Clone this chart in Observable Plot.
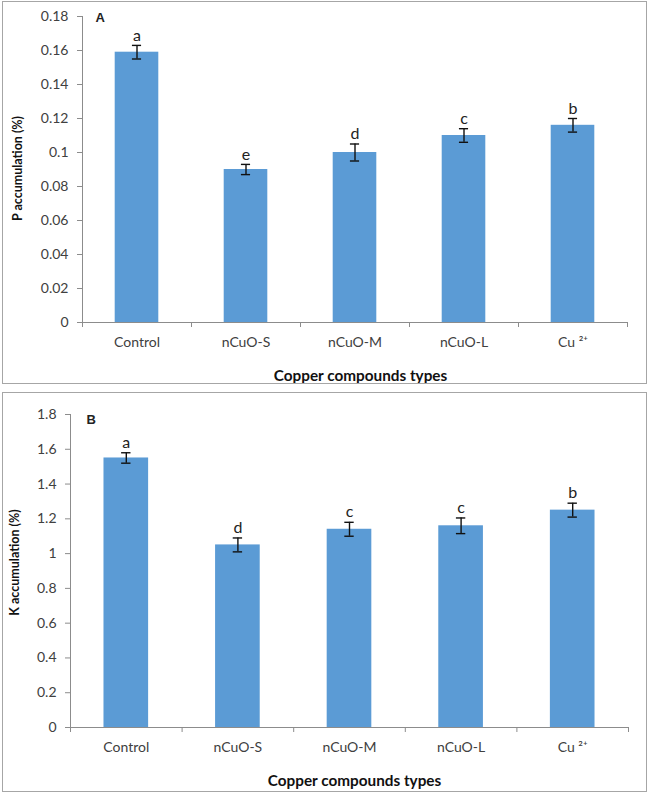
<!DOCTYPE html>
<html>
<head>
<meta charset="utf-8">
<script src="https://cdn.jsdelivr.net/npm/d3@7"></script>
<script src="https://cdn.jsdelivr.net/npm/@observablehq/plot@0.6"></script>
<style>
  html, body { margin: 0; padding: 0; background: #fff; }
  .panel { position: absolute; left: 2px; width: 643px; border: 1px solid #a6a6a6; background: #fff; }
  #pa { top: 1px; height: 381px; }
  #pb { top: 392px; height: 398px; }
  svg { display: block; }
</style>
</head>
<body>
<div class="panel" id="pa"></div>
<div class="panel" id="pb"></div>
<script>
const categories = ["Control", "nCuO-S", "nCuO-M", "nCuO-L", "Cu ²⁺"];

const pValues  = [0.159, 0.090, 0.100, 0.110, 0.116];
const pErrors  = [0.004, 0.003, 0.005, 0.004, 0.004];
const pLetters = ["a", "e", "d", "c", "b"];
const pTicks   = [0, 0.02, 0.04, 0.06, 0.08, 0.1, 0.12, 0.14, 0.16, 0.18];

const kValues  = [1.55, 1.05, 1.14, 1.16, 1.25];
const kErrors  = [0.03, 0.04, 0.04, 0.045, 0.04];
const kLetters = ["a", "d", "c", "c", "b"];
const kTicks   = [0, 0.2, 0.4, 0.6, 0.8, 1, 1.2, 1.4, 1.6, 1.8];

const xTitle = "Copper compounds types";

function panel({values, errors, letters, ticks, yTitle, tag, height, margins, yTitleOff, xTitleOff, tagOff}) {
  const data = categories.map((c, i) => ({i, c, v: values[i], e: errors[i], l: letters[i]}));
  const axisGray = "#8c8c8c";
  const halfBar = 0.2, halfCap = 0.042;
  const bounds = d3.range(categories.length + 1).map(i => i - 0.5);
  return Plot.plot({
    width: 643,
    height,
    marginLeft: margins[0], marginRight: margins[1], marginTop: margins[2], marginBottom: margins[3],
    style: {fontFamily: "Lato, 'Open Sans', sans-serif", fontSize: "14px", color: "#404040", background: "#fff"},
    x: {domain: [-0.5, categories.length - 0.5], axis: null},
    y: {domain: [0, ticks[ticks.length - 1]], axis: null},
    marks: [
      Plot.rect(data, {x1: d => d.i - halfBar, x2: d => d.i + halfBar, y1: d => 0, y2: "v", fill: "#5B9BD5"}),
      Plot.ruleX([-0.5], {stroke: axisGray, strokeWidth: 1}),
      Plot.ruleY([0], {stroke: axisGray, strokeWidth: 1}),
      Plot.axisY({ticks, tickSize: 5, tickPadding: 9, stroke: axisGray, fill: "#404040", fontSize: 14,
                  tickFormat: d => String(+d.toFixed(2)), label: null}),
      Plot.axisX({ticks: bounds, tickSize: 5, stroke: axisGray, tickFormat: () => "", label: null}),
      Plot.axisX({ticks: d3.range(categories.length), tickSize: 0, tickPadding: 15, fill: "#404040",
                  fontSize: 14, tickFormat: i => categories[i], label: null}),
      Plot.ruleX(data, {x: "i", y1: d => d.v - d.e, y2: d => d.v + d.e, stroke: "#111", strokeWidth: 1.4}),
      Plot.ruleY(data, {y: d => d.v + d.e, x1: d => d.i - halfCap, x2: d => d.i + halfCap, stroke: "#111", strokeWidth: 1.4}),
      Plot.ruleY(data, {y: d => d.v - d.e, x1: d => d.i - halfCap, x2: d => d.i + halfCap, stroke: "#111", strokeWidth: 1.4}),
      Plot.text(data, {x: "i", y: d => d.v + d.e, text: "l", dy: -10, fontSize: 16, fill: "#222"}),
      Plot.text([yTitle], {frameAnchor: "left", textAnchor: "middle", lineAnchor: "middle", rotate: -90,
                  dx: yTitleOff[0], dy: yTitleOff[1], fontWeight: "bold", fontSize: 12.5, fill: "#111"}),
      Plot.text([xTitle], {frameAnchor: "bottom", textAnchor: "middle", lineAnchor: "middle",
                  dx: xTitleOff[0], dy: xTitleOff[1], fontWeight: "bold", fontSize: 15.3, fill: "#111"}),
      Plot.text([tag], {frameAnchor: "top-left", textAnchor: "start", lineAnchor: "middle", dx: tagOff[0], dy: tagOff[1],
                  fontWeight: "bold", fontSize: 13, fill: "#222", fontFamily: "'Liberation Sans', Arial, sans-serif"})
    ]
  });
}

document.getElementById("pa").append(panel({
  values: pValues, errors: pErrors, letters: pLetters, ticks: pTicks,
  yTitle: "P accumulation (%)", tag: "A", height: 381,
  margins: [79, 19, 14, 61],
  yTitleOff: [-65, -1], xTitleOff: [5.5, 54], tagOff: [13, 1]
}));

document.getElementById("pb").append(panel({
  values: kValues, errors: kErrors, letters: kLetters, ticks: kTicks,
  yTitle: "K accumulation (%)", tag: "B", height: 398,
  margins: [67, 18, 21, 64],
  yTitleOff: [-56, -8.5], xTitleOff: [5, 54], tagOff: [16, 5.5]
}));
</script>
</body>
</html>
